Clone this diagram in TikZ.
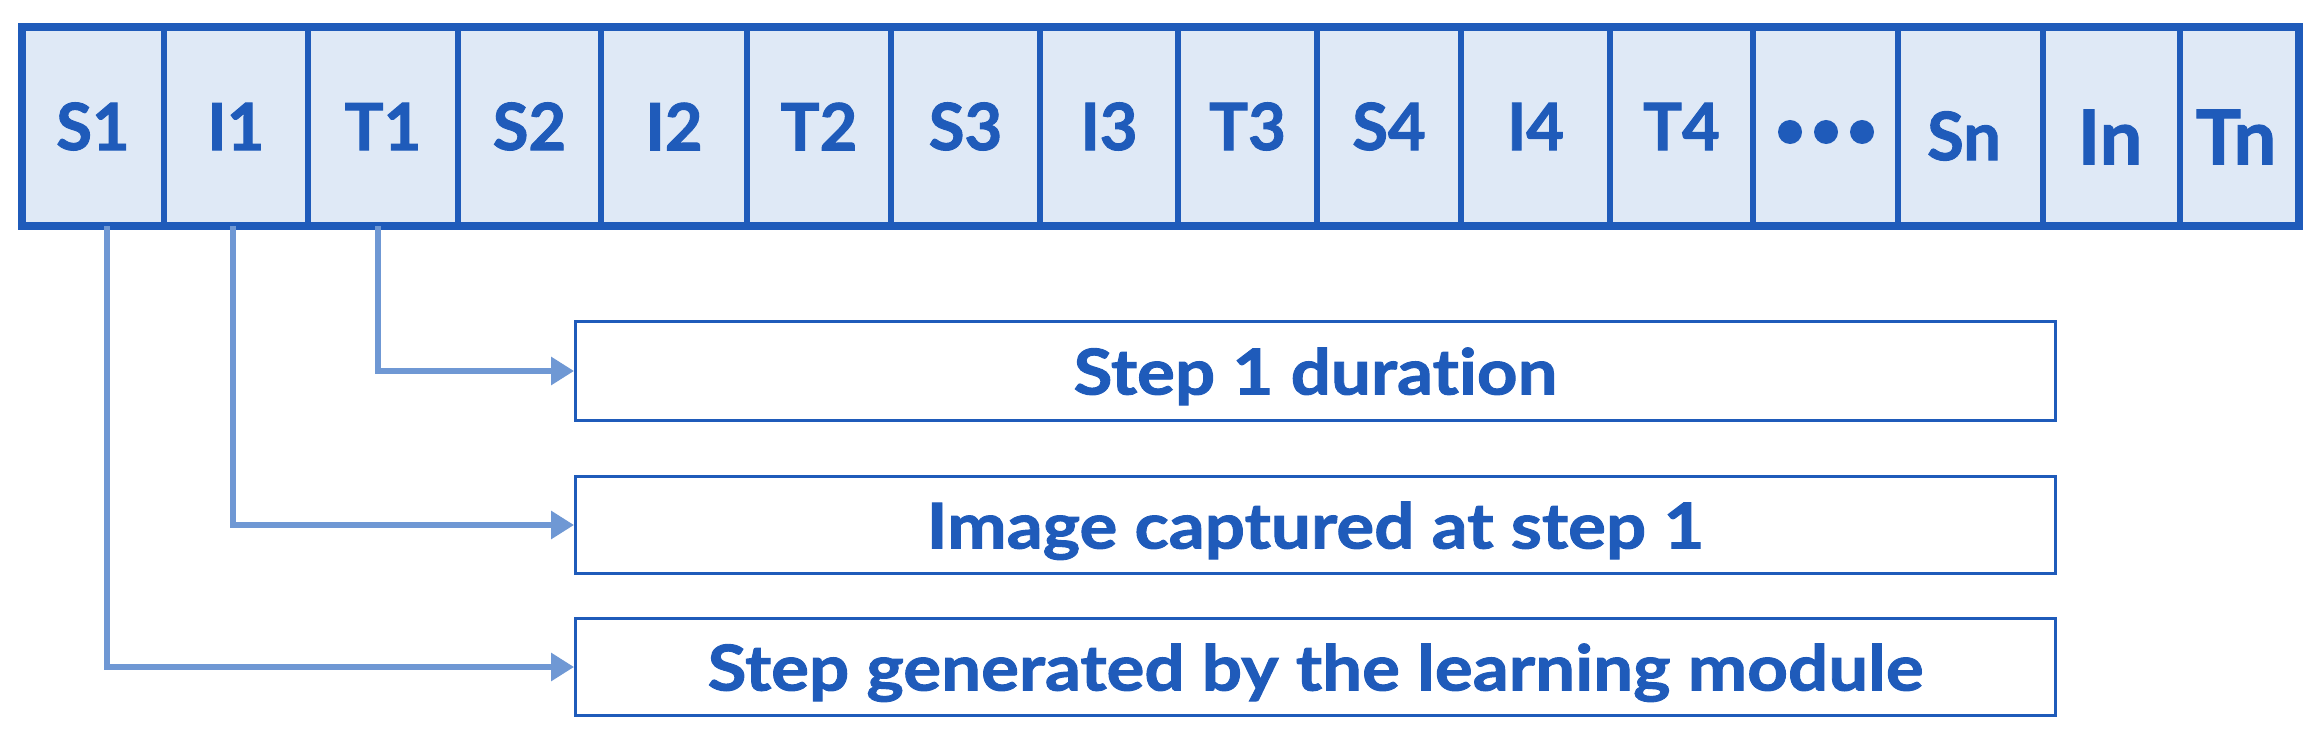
\documentclass[tikz,border=0pt]{standalone}
\usepackage{fontspec}
\setmainfont{Lato}[Ligatures=CommonOff, BoldFeatures={FakeBold=1.5}]
\newfontfamily\descfont{Lato}[Ligatures=CommonOff, FakeStretch=1.12, BoldFeatures={FakeBold=1.5}]
\usetikzlibrary{arrows.meta}
\definecolor{dblue}{RGB}{31,91,186}
\definecolor{cellfill}{RGB}{223,233,246}
\definecolor{lblue}{RGB}{111,152,212}
\begin{document}
\begin{tikzpicture}[x=0.01cm,y=-0.01cm,
  cell/.style={draw=dblue, fill=cellfill, line width=1.7pt, minimum height=1.99cm,
    inner sep=0pt, outer sep=0pt, text=dblue, font=\bfseries\fontsize{18.5}{22}\selectfont},
  lbl/.style={text=dblue, inner sep=0pt, font=\bfseries\fontsize{21.5}{26}\selectfont},
  smalllbl/.style={text=dblue, inner sep=0pt, font=\bfseries\fontsize{19}{22}\selectfont},
  descbox/.style={draw=dblue, line width=0.85pt, minimum width=14.79cm, minimum height=0.97cm,
    inner sep=0pt, text depth=0pt, text=dblue, font=\descfont\bfseries\fontsize{18}{22}\selectfont},
  conn/.style={draw=lblue, line width=1.8pt, -{Triangle[length=0.23cm,width=0.27cm]}}]
\useasboundingbox (0,0) rectangle (2316,743);
% sequence cells
\foreach \l/\r/\n/\t in {22/164/c1/S1, 164/308/c2/I1, 308/458/c3/T1, 458/601/c4/S2,
  601/747/c5/I2, 747/891/c6/T2, 891/1040/c7/S3, 1040/1178/c8/I3, 1178/1317/c9/T3,
  1317/1461/c10/S4, 1461/1610/c11/I4, 1610/1753/c12/T4}
  \node[cell, minimum width={(\r-\l)*0.01cm}] (\n) at ({(\l+\r)/2},126.5) {\t};
\node[cell, minimum width=1.45cm] (c13) at (1825.5,126.5) {};
\node[cell, minimum width=1.45cm] (c14) at (1970.5,126.5) {};
\node[cell, minimum width=1.37cm] (c15) at (2111.5,126.5) {};
\node[cell, minimum width=1.19cm] (c16) at (2239.5,126.5) {};
% ellipsis dots
\fill[dblue] (1790,132) circle[radius=0.12cm];
\fill[dblue] (1826,132) circle[radius=0.12cm];
\fill[dblue] (1862,132) circle[radius=0.12cm];
% n labels
\node[smalllbl] (lsn) at (1964,136) {Sn};
\node[lbl] (lin) at (2110,137) {In};
\node[lbl] (ltn) at (2236,137) {Tn};
% outer frame
\draw[dblue, line width=2.3pt] (c1.north west) rectangle (c16.south east);
% description boxes
\node[descbox, minimum height=0.98cm] (b1) at (1315.5,371) {Step 1 duration};
\node[descbox] (b2) at (1315.5,525) {Image captured at step 1};
\node[descbox] (b3) at (1315.5,667) {Step generated by the learning module};
% connectors
\draw[conn] ([xshift=0.14cm]c1.south) |- (b3.west);
\draw[conn] ([xshift=-0.03cm]c2.south) |- (b2.west);
\draw[conn] ([xshift=-0.05cm]c3.south) |- (b1.west);
\end{tikzpicture}
\end{document}
